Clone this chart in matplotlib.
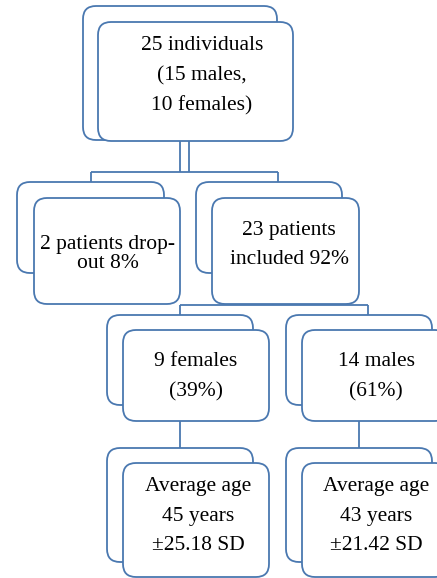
import matplotlib
matplotlib.use("Agg")
import matplotlib.pyplot as plt
from matplotlib.patches import FancyBboxPatch

# node texts
top_text = ["25 individuals", "(15 males,", "10 females)"]
dropout_text = ["2 patients drop-", "out 8%"]
included_text = ["23 patients", "included 92%"]
female_text = ["9 females", "(39%)"]
male_text = ["14 males", "(61%)"]
female_age = ["Average age", "45 years", "\u00b125.18 SD"]
male_age = ["Average age", "43 years", "\u00b121.42 SD"]

blue = "#4a78b0"
lw = 1.3

fig = plt.figure(figsize=(4.37, 5.78), dpi=100)
ax = fig.add_axes([0, 0, 1, 1])
ax.set_xlim(0, 437)
ax.set_ylim(578, 0)
ax.axis("off")


def box(x0, y0, x1, y1, z):
    p = FancyBboxPatch((x0, y0), x1 - x0, y1 - y0,
                       boxstyle="round,pad=0,rounding_size=13",
                       fc="white", ec=blue, lw=lw, zorder=z)
    ax.add_patch(p)


def node(back, front, lines, cx, ys):
    box(*back, z=2)
    box(*front, z=3)
    for t, y in zip(lines, ys):
        ax.text(cx, y, t, ha="center", va="center", fontsize=15.5,
                family="Liberation Serif", zorder=4)


def line(xs, ys):
    ax.plot(xs, ys, color=blue, lw=lw, zorder=1, solid_capstyle="butt")


# connectors
line([180, 180], [140, 172])
line([189, 189], [140, 172])
line([91, 278], [172, 172])
line([91, 91], [172, 182])
line([278, 278], [172, 182])
line([273, 273], [300, 305])
line([180, 368], [305, 305])
line([180, 180], [305, 315])
line([368, 368], [305, 315])
line([180, 180], [421, 448])
line([359, 359], [421, 448])

node((83, 6, 277, 140), (98, 22, 293, 141), top_text, 202, [45, 76, 106])
node((17, 182, 164, 273), (34, 198, 180, 304), dropout_text, 108, [245, 264])
node((196, 182, 342, 273), (212, 198, 359, 304), included_text, 289, [231, 260])
node((107, 315, 253, 405), (123, 330, 269, 421), female_text, 196, [361, 392])
node((286, 315, 432, 405), (302, 330, 448, 421), male_text, 376, [361, 392])
node((107, 448, 253, 562), (123, 463, 269, 577), female_age, 198, [486, 516, 545])
node((286, 448, 432, 562), (302, 463, 448, 577), male_age, 376, [486, 516, 545])

fig.savefig("out.png", dpi=100)
